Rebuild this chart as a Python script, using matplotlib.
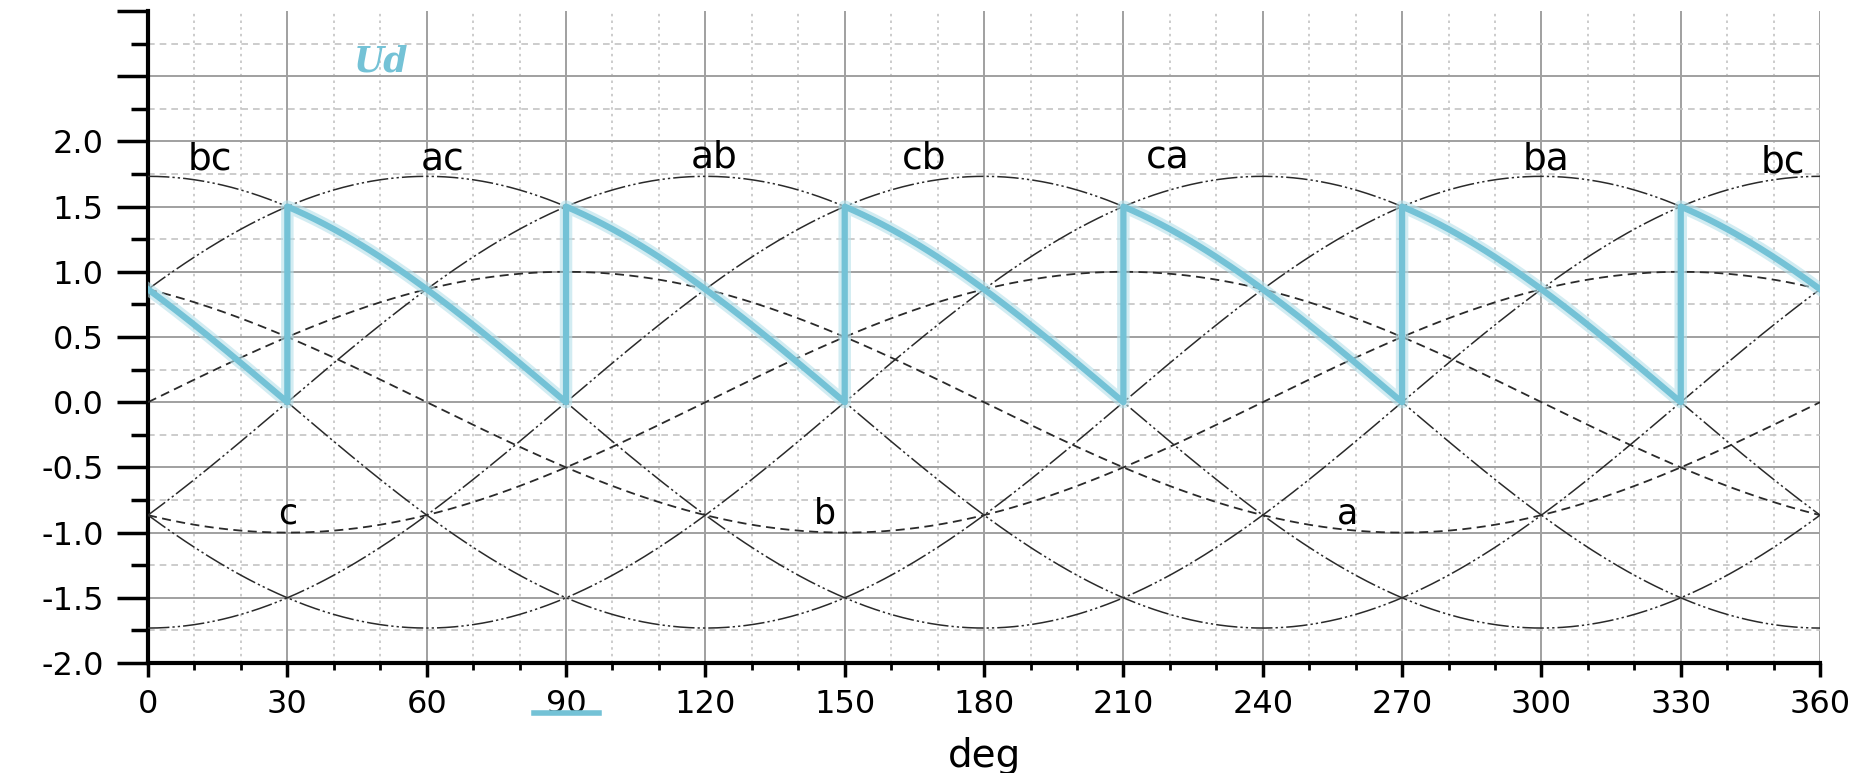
import numpy as np
import matplotlib
matplotlib.use('Agg')
import matplotlib.pyplot as plt
from matplotlib.ticker import MultipleLocator, FuncFormatter

# line voltages: name, angle of peak (deg), amplitude
line_names = ['bc', 'ac', 'ab', 'cb', 'ca', 'ba']
line_peaks = [0, 60, 120, 180, 240, 300]
line_amp = 1.732
# label positions for the line voltages
line_lbl_x = [13.4, 63.5, 121.9, 167.0, 219.6, 300.9, 352.0]
line_lbl_y = [1.86, 1.85, 1.88, 1.87, 1.87, 1.86, 1.84]
line_lbl_txt = ['bc', 'ac', 'ab', 'cb', 'ca', 'ba', 'bc']

# phase voltages
phase_names = ['a', 'b', 'c']
phase_peaks = [90, 330, 210]
phase_amp = 1.0
phase_lbl_x = [258.2, 145.8, 30.1]
phase_lbl_y = [-0.85, -0.85, -0.85]

# Ud: conducting segments (start, end, peak of the line voltage followed)
ud_start = [0, 30, 90, 150, 210, 270, 330]
ud_end = [30, 90, 150, 210, 270, 330, 360]
ud_peak = [300, 0, 60, 120, 180, 240, 300]

ud_color = '#74c2d6'
curve_color = '#2a2a2a'

plt.rcParams['font.family'] = ['DejaVu Sans']
fig = plt.figure(figsize=(18.76, 7.73), dpi=100)
ax = fig.add_axes([0.0789, 0.1423, 0.8913, 0.8435])

th = np.linspace(0, 360, 721)
for pk in line_peaks:
    ax.plot(th, line_amp * np.cos(np.radians(th - pk)), color=curve_color,
            lw=1.1, ls=(0, (14, 2, 1.5, 2, 1.5, 2)), zorder=3)
for pk in phase_peaks:
    ax.plot(th, phase_amp * np.cos(np.radians(th - pk)), color=curve_color,
            lw=1.3, ls=(0, (5, 3)), zorder=3)

# Ud
ux, uy = [], []
for s, e, pk in zip(ud_start, ud_end, ud_peak):
    t = np.linspace(s, e, 61)
    ux.extend(t)
    uy.extend(line_amp * np.cos(np.radians(t - pk)))
ax.plot(ux, uy, color='#b5e0ea', lw=9, alpha=0.6, zorder=4)
ax.plot(ux, uy, color=ud_color, lw=4.5, zorder=5)

for x, y, t in zip(line_lbl_x, line_lbl_y, line_lbl_txt):
    ax.text(x, y, t, fontsize=27, ha='center', va='center', zorder=6)
for x, y, t in zip(phase_lbl_x, phase_lbl_y, phase_names):
    ax.text(x, y, t, fontsize=25, ha='center', va='center', zorder=6)

ax.text(50, 2.61, 'Ud', fontsize=25, family='DejaVu Serif', style='italic',
        weight='bold', color=ud_color, ha='center', va='center')

# small cyan mark under the 90 label
ax.plot([83, 97], [-0.077, -0.077], color=ud_color, lw=4,
        transform=ax.get_xaxis_transform(), clip_on=False)

ax.set_xlim(0, 360)
ax.set_ylim(-2.0, 3.0)
ax.xaxis.set_major_locator(MultipleLocator(30))
ax.xaxis.set_minor_locator(MultipleLocator(10))
ax.yaxis.set_major_locator(MultipleLocator(0.5))
ax.yaxis.set_minor_locator(MultipleLocator(0.25))
ax.yaxis.set_major_formatter(FuncFormatter(lambda v, p: '' if v > 2.01 else '%.1f' % v))

ax.grid(which='major', color='#a0a0a0', lw=1.4, ls='-', zorder=0)
ax.grid(which='minor', axis='y', color='#c4c4c4', lw=1.2, ls=(0, (4, 3)), zorder=0)
ax.grid(which='minor', axis='x', color='#c4c4c4', lw=1.2, ls=(0, (1.5, 2.5)), zorder=0)
ax.set_axisbelow(True)

for sp in ['top', 'right']:
    ax.spines[sp].set_visible(False)
for sp in ['left', 'bottom']:
    ax.spines[sp].set_linewidth(3)

ax.tick_params(axis='y', which='major', length=22, width=2.5, labelsize=23, pad=10)
ax.tick_params(axis='y', which='minor', length=12, width=2.5)
ax.tick_params(axis='x', which='major', length=10, width=2.5, labelsize=23, pad=9)
ax.tick_params(axis='x', which='minor', length=5, width=2.0)

ax.set_xlabel('deg', fontsize=28, labelpad=12)

# no horizontal grid line along the top edge
fig.canvas.draw()
for tk in ax.yaxis.get_major_ticks():
    if tk.get_loc() > 2.9:
        tk.gridline.set_visible(False)

fig.savefig('out.png', dpi=100)
